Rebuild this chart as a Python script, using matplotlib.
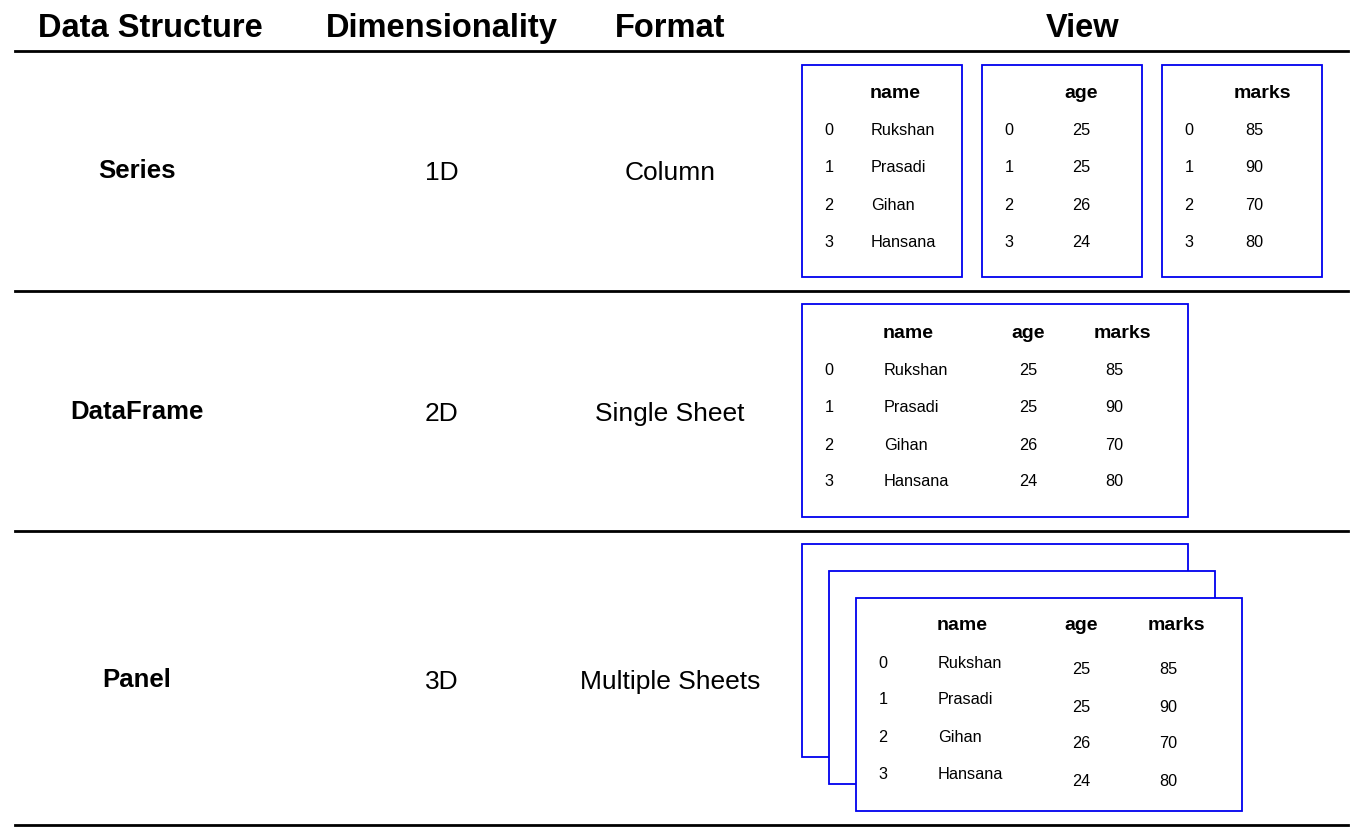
import matplotlib
matplotlib.use("Agg")
import matplotlib.pyplot as plt
from matplotlib.patches import Rectangle

plt.rcParams['font.family'] = ['Liberation Sans', 'DejaVu Sans']

headers = ["Data Structure", "Dimensionality", "Format", "View"]
structures = ["Series", "DataFrame", "Panel"]
dims = ["1D", "2D", "3D"]
formats = ["Column", "Single Sheet", "Multiple Sheets"]
cols = ["name", "age", "marks"]
idx = ["0", "1", "2", "3"]
names = ["Rukshan", "Prasadi", "Gihan", "Hansana"]
ages = ["25", "25", "26", "24"]
marks = ["85", "90", "70", "80"]

fig = plt.figure(figsize=(13.7, 8.37), dpi=100)
ax = fig.add_axes([0, 0, 1, 1])
ax.set_xlim(0, 1370); ax.set_ylim(837, 0); ax.axis('off')
BLUE = '#0000ee'

for h, x in zip(headers, [150, 442, 670, 1083]):
    ax.text(x, 28, h, ha='center', va='center', fontsize=23.5, fontweight='bold')
for y in [52, 292, 532, 826]:
    ax.plot([15, 1348], [y, y], color='black', lw=2)

rowy = [171, 412, 680]
for s, d, f, y in zip(structures, dims, formats, rowy):
    ax.text(137, y, s, ha='center', va='center', fontsize=18.5, fontweight='bold')
    ax.text(442, y + 2, d, ha='center', va='center', fontsize=19)
    ax.text(670, y + 2, f, ha='center', va='center', fontsize=19)

def box(x0, y0, x1, y1):
    ax.add_patch(Rectangle((x0, y0), x1 - x0, y1 - y0, fill=True, facecolor='white',
                           edgecolor=BLUE, lw=1.3))

fs, hs = 11.7, 14
series_vals = [names, ages, marks]
for k, (x0, hx, vx, ha) in enumerate([(802, 895, 871, 'left'), (982, 1081, 1081, 'center'),
                                      (1162, 1262, 1254, 'center')]):
    box(x0, 66, x0 + 160, 278)
    ax.text(hx, 93, cols[k], ha='center', va='center', fontsize=hs, fontweight='bold')
    for i, y in enumerate([130, 167, 205, 242]):
        ax.text(x0 + 27, y, idx[i], ha='center', va='center', fontsize=fs)
        ax.text(vx, y, series_vals[k][i], ha=ha, va='center', fontsize=fs)

box(802, 305, 1188, 518)
for c, x in zip(cols, [908, 1028, 1122]):
    ax.text(x, 333, c, ha='center', va='center', fontsize=hs, fontweight='bold')
for i, y in enumerate([370, 407, 445, 482]):
    ax.text(829, y, idx[i], ha='center', va='center', fontsize=fs)
    ax.text(884, y, names[i], ha='left', va='center', fontsize=fs)
    ax.text(1028, y, ages[i], ha='center', va='center', fontsize=fs)
    ax.text(1114, y, marks[i], ha='center', va='center', fontsize=fs)

for off in [0, 27, 54]:
    box(802 + off, 545 + off, 1188 + off, 758 + off)
for c, x in zip(cols, [962, 1081, 1176]):
    ax.text(x, 626, c, ha='center', va='center', fontsize=hs, fontweight='bold')
for i, (y, y2) in enumerate(zip([663, 700, 738, 775], [670, 707, 744, 782])):
    ax.text(883, y, idx[i], ha='center', va='center', fontsize=fs)
    ax.text(938, y, names[i], ha='left', va='center', fontsize=fs)
    ax.text(1081, y2, ages[i], ha='center', va='center', fontsize=fs)
    ax.text(1168, y2, marks[i], ha='center', va='center', fontsize=fs)

fig.savefig("out.png", dpi=100)
